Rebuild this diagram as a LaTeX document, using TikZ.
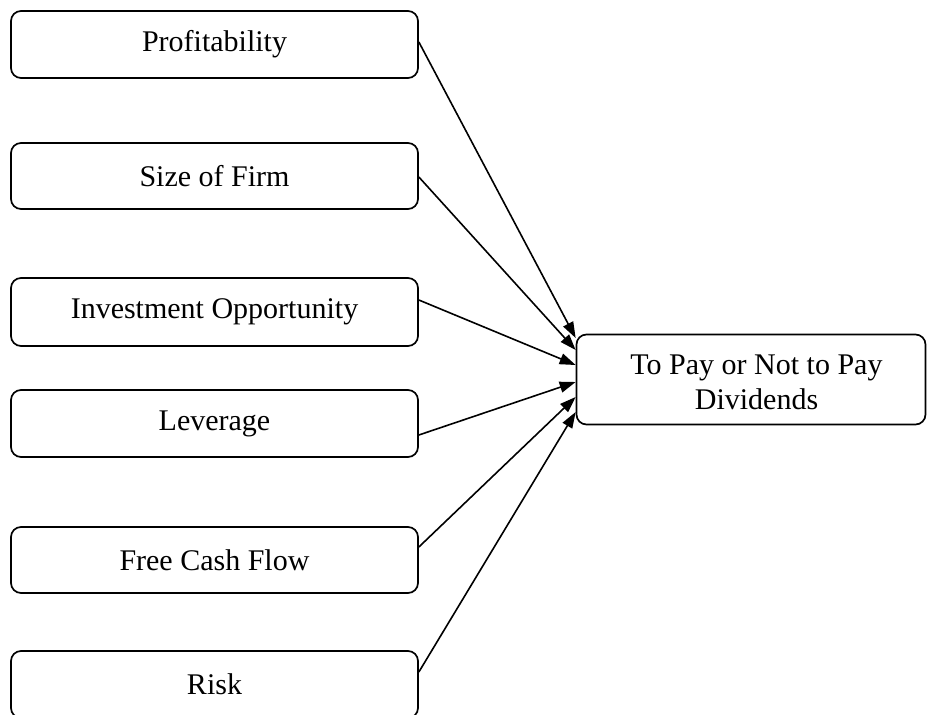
\documentclass[tikz,border=0pt]{standalone}
\usepackage{fontspec}
\setmainfont{Liberation Serif}
\usetikzlibrary{arrows.meta}
\begin{document}
\begin{tikzpicture}[x=1pt,y=-1pt,
  factor/.style={draw,line width=1.7pt,rounded corners=10pt,minimum width=407pt,inner sep=0pt,font=\fontsize{30}{35}\selectfont},
  goal/.style={draw,line width=1.7pt,rounded corners=10pt,minimum width=349pt,minimum height=90pt,inner sep=0pt},
  goaltext/.style={inner sep=0pt,align=center,font=\fontsize{30}{35.5}\selectfont},
  link/.style={line width=1.6pt,-{Triangle[length=16pt,width=11pt]}}]
\useasboundingbox (0,0) rectangle (927,715);
\node[factor,minimum height=67pt] (p) at (214.5,44.5) {Profitability};
\node[factor,minimum height=66pt] (s) at (214.5,176) {Size of Firm};
\node[factor,minimum height=68pt] (i) at (214.5,312) {Investment Opportunity};
\node[factor,minimum height=67pt] (l) at (214.5,423.5) {Leverage};
\node[factor,minimum height=66pt] (f) at (214.5,560) {Free Cash Flow};
\node[factor,minimum height=67pt] (r) at (214.5,684.5) {Risk};
\node[goal] (d) at (751,379.5) {};
\node[goaltext] (dt) at ([xshift=5.5pt,yshift=-3pt]d.center) {To Pay or Not to Pay\\Dividends};
\draw[link] ([yshift=2.5pt]p.east) -- ([yshift=41.5pt]d.west);
\draw[link] ([yshift=-1pt]s.east) -- ([yshift=29.5pt]d.west);
\draw[link] ([yshift=12pt]i.east) -- ([yshift=14.5pt]d.west);
\draw[link] ([yshift=-11.5pt]l.east) -- ([yshift=-2.5pt]d.west);
\draw[link] ([yshift=13pt]f.east) -- ([yshift=-17.5pt]d.west);
\draw[link] ([yshift=12.5pt]r.east) -- ([yshift=-32.5pt]d.west);
\end{tikzpicture}
\end{document}
